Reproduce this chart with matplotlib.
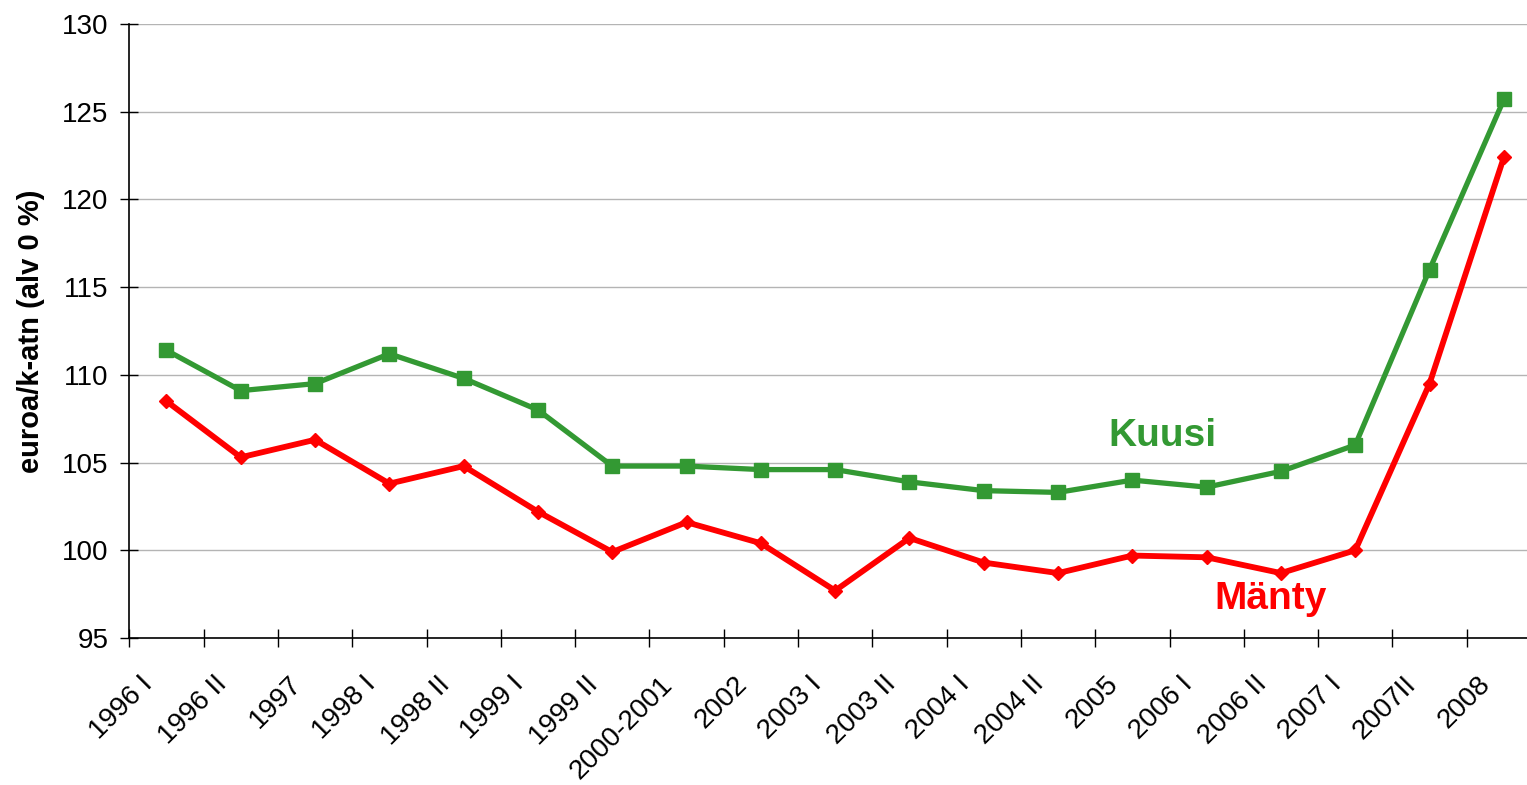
import numpy as np
import matplotlib.pyplot as plt
import matplotlib.transforms as mtransforms

plt.rcParams['font.family'] = ['Liberation Sans', 'DejaVu Sans']

# data
periods = ['1996 I', '1996 II', '1997', '1998 I', '1998 II', '1999 I', '1999 II',
           '2000-2001', '2002', '2003 I', '2003 II', '2004 I', '2004 II', '2005',
           '2006 I', '2006 II', '2007 I', '2007II', '2008']
kuusi = [111.4, 109.1, 109.5, 111.2, 109.8, 108.0, 104.8, 104.8, 104.6, 104.6,
         103.9, 103.4, 103.3, 104.0, 103.6, 104.5, 106.0, 116.0, 125.7]
manty = [108.5, 105.3, 106.3, 103.8, 104.8, 102.2, 99.9, 101.6, 100.4, 97.7,
         100.7, 99.3, 98.7, 99.7, 99.6, 98.7, 100.0, 109.5, 122.4]
yticks = [95, 100, 105, 110, 115, 120, 125, 130]

green = '#339933'
red = '#ff0000'

fig = plt.figure(figsize=(15.27, 7.85), dpi=100)
ax = fig.add_axes([129.3 / 1527, 147 / 785, 1411.7 / 1527, 614 / 785])

x = np.arange(len(periods))
ax.plot(x, kuusi, color=green, lw=3.8, marker='s', ms=10.5, zorder=3)
ax.plot(x, manty, color=red, lw=4.2, marker='D', ms=7, zorder=3)

ax.set_xlim(-0.5, len(periods) - 0.5)
ax.set_ylim(95, 130)
ax.set_yticks(yticks)
ax.grid(axis='y', color='#b4b4b4', lw=1.0)
ax.set_axisbelow(True)

ax.set_xticks(x)
ax.set_xticklabels(periods, rotation=45, ha='right', va='top', rotation_mode='anchor')
ax.set_xticks(np.arange(len(periods) + 1) - 0.5, minor=True)
ax.tick_params(axis='x', which='major', length=0, labelsize=20, pad=24)
ax.tick_params(axis='x', which='minor', direction='inout', length=13, width=1)
ax.tick_params(axis='y', direction='inout', length=13, width=1, labelsize=20, pad=8.5)

# shift rotated labels left so they end under the category
off = mtransforms.ScaledTranslation(-27 / 100, 0, fig.dpi_scale_trans)
for lab in ax.get_xticklabels():
    lab.set_transform(lab.get_transform() + off)

for s in ['top', 'right']:
    ax.spines[s].set_visible(False)
ax.spines['left'].set_linewidth(1.2)
ax.spines['bottom'].set_linewidth(1.2)

ax.set_ylabel('euroa/k-atn (alv 0 %)', fontsize=21, fontweight='bold', labelpad=12)

ax.text(13.41, 105.94, 'Kuusi', color=green, fontsize=28, fontweight='bold',
        ha='center', va='baseline')
ax.text(14.86, 96.65, 'Mänty', color=red, fontsize=28, fontweight='bold',
        ha='center', va='baseline')

fig.savefig('out.png', dpi=100)
